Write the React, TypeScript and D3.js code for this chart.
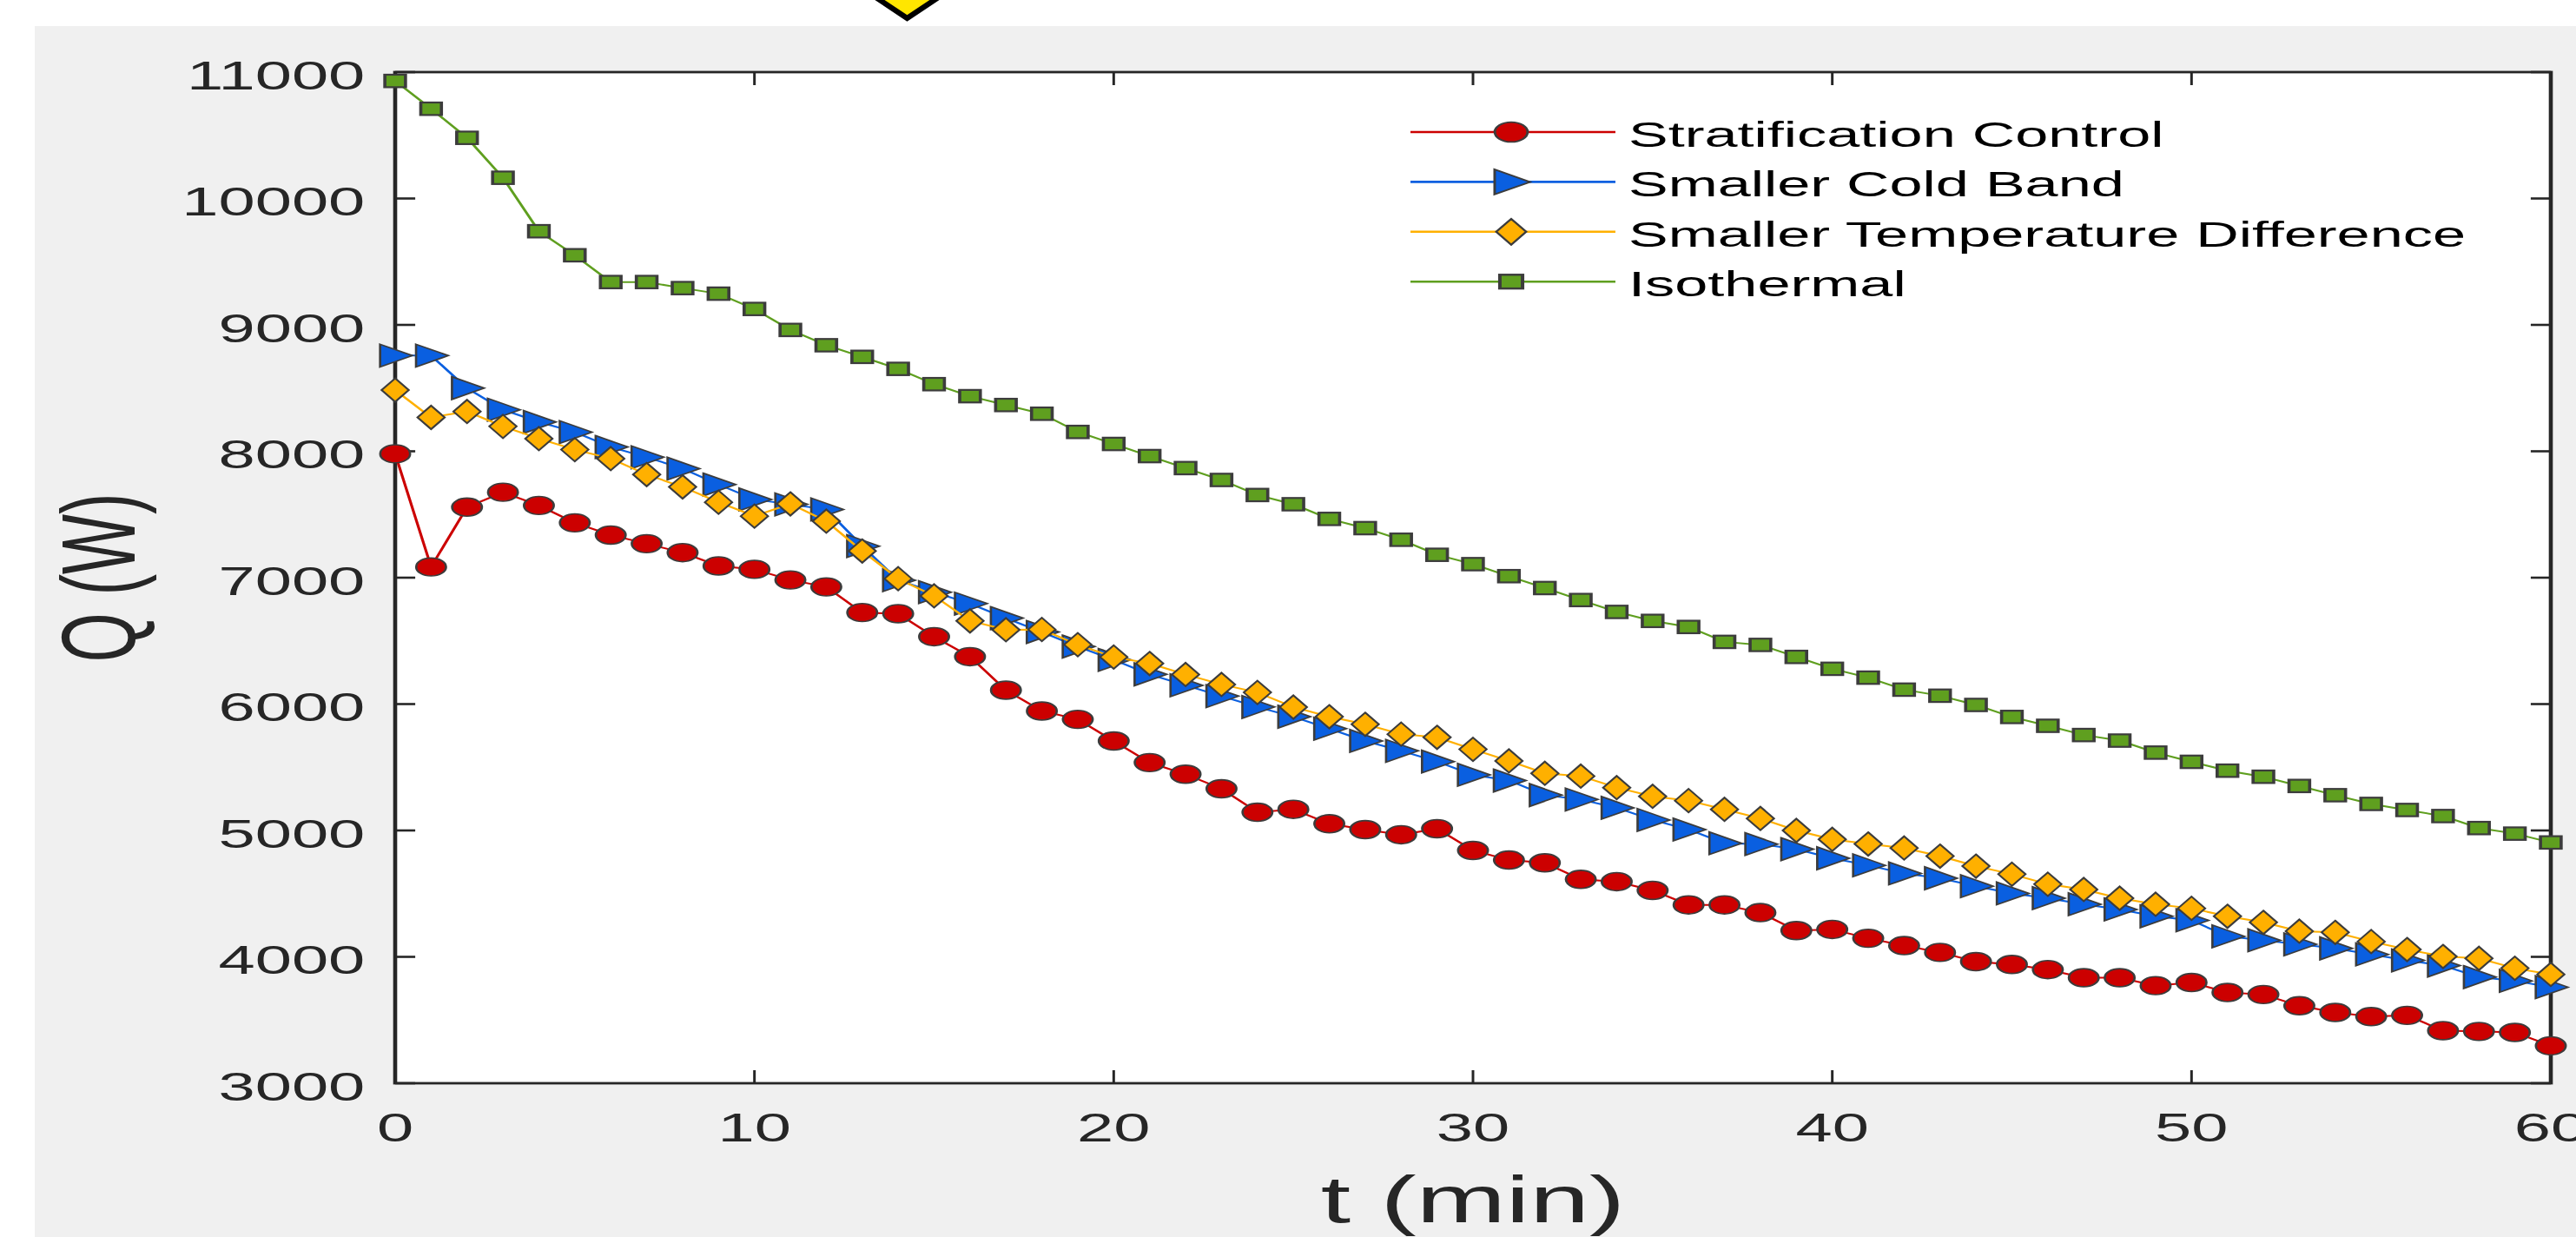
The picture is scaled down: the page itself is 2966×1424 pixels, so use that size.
import React from 'react';
import * as d3 from 'd3';

// ---------- data ----------
const times = [
  0, 1, 2, 3, 4, 5, 6, 7, 8, 9, 10, 11, 12, 13, 14, 15, 16, 17, 18, 19, 20,
  21, 22, 23, 24, 25, 26, 27, 28, 29, 30, 31, 32, 33, 34, 35, 36, 37, 38, 39, 40,
  41, 42, 43, 44, 45, 46, 47, 48, 49, 50, 51, 52, 53, 54, 55, 56, 57, 58, 59, 60,
];

const stratificationControl = [
  7980, 7085, 7558, 7676, 7571, 7434, 7337, 7269, 7198, 7093, 7066,
  6982, 6927, 6724, 6715, 6533, 6375, 6110, 5945, 5879, 5708,
  5537, 5445, 5330, 5144, 5167, 5053, 5007, 4966, 5014, 4842,
  4766, 4744, 4613, 4595, 4526, 4411, 4411, 4350, 4208, 4217,
  4147, 4089, 4035, 3962, 3940, 3899, 3835, 3835, 3772, 3797,
  3718, 3702, 3613, 3560, 3527, 3537, 3416, 3410, 3402, 3296,
];

const smallerColdBand = [
  8757, 8757, 8500, 8329, 8232, 8152, 8034, 7953, 7863, 7737, 7619,
  7580, 7540, 7250, 6980, 6885, 6795, 6680, 6570, 6455, 6350,
  6235, 6148, 6063, 5977, 5900, 5805, 5708, 5630, 5545, 5440,
  5395, 5280, 5245, 5179, 5083, 5007, 4899, 4892, 4852, 4780,
  4724, 4660, 4622, 4559, 4502, 4464, 4416, 4375, 4321, 4289,
  4162, 4131, 4099, 4067, 4019, 3972, 3931, 3840, 3810, 3760,
];

const smallerTempDifference = [
  8484, 8268, 8315, 8197, 8100, 8013, 7942, 7816, 7718, 7597, 7487,
  7584, 7447, 7211, 6992, 6856, 6658, 6588, 6590, 6470, 6372,
  6321, 6234, 6155, 6092, 5976, 5900, 5840, 5762, 5737, 5642,
  5550, 5452, 5430, 5339, 5270, 5236, 5167, 5095, 5000, 4930,
  4893, 4861, 4797, 4718, 4654, 4575, 4533, 4464, 4416, 4384,
  4321, 4273, 4203, 4194, 4121, 4058, 4003, 3988, 3910, 3861,
];

const isothermal = [
  10930, 10710, 10480, 10164, 9741, 9551, 9339, 9339, 9291, 9247, 9126,
  8960, 8839, 8747, 8652, 8531, 8436, 8366, 8297, 8153, 8058,
  7962, 7867, 7773, 7654, 7581, 7465, 7392, 7300, 7181, 7107,
  7012, 6918, 6823, 6729, 6658, 6610, 6492, 6468, 6373, 6279,
  6209, 6114, 6066, 5993, 5898, 5828, 5755, 5711, 5616, 5543,
  5473, 5425, 5352, 5279, 5210, 5162, 5114, 5019, 4975, 4905,
];

const seriesNames = [
  'Stratification Control',
  'Smaller Cold Band',
  'Smaller Temperature Difference',
  'Isothermal',
];
const seriesColors = ['#cc0000', '#0a5fe0', '#ffb000', '#5f9f1f'];
const seriesMarkers = ['circle', 'triangle', 'diamond', 'square'];
const seriesValues = [stratificationControl, smallerColdBand, smallerTempDifference, isothermal];

const xTicks = [0, 10, 20, 30, 40, 50, 60];
const yTicks = [3000, 4000, 5000, 6000, 7000, 8000, 9000, 10000, 11000];

const xTitle = 't (min)';
const yTitle = 'Q (W)';

// ---------- layout ----------
const W = 2966;
const H = 1424;
const SX = 1.65; // horizontal stretch of the whole figure
const FONT = "'Liberation Sans', Arial, Helvetica, sans-serif";
const AX = '#262626';
const EDGE = '#3c3c3c';

const plotLeft = 455 / SX;
const plotRight = 2937 / SX;
const plotTop = 83;
const plotBottom = 1247;

const xScale = d3.scaleLinear().domain([0, 60]).range([plotLeft, plotRight]);
const yScale = d3.scaleLinear().domain([3000, 11000]).range([plotBottom, plotTop]);

function Marker({ type, x, y, color, k = 1 }: { type: string; x: number; y: number; color: string; k?: number }) {
  const t = `translate(${x},${y}) scale(${k})`;
  if (type === 'circle')
    return <circle transform={t} r={10.4} fill={color} stroke={EDGE} strokeWidth={1.6} />;
  if (type === 'triangle')
    return <polygon transform={t} points="-10.5,-13 12,0 -10.5,13" fill={color} stroke={EDGE} strokeWidth={1.6} />;
  if (type === 'diamond')
    return <polygon transform={t} points="0,-13.5 9.5,0 0,13.5 -9.5,0" fill={color} stroke={EDGE} strokeWidth={1.6} />;
  return <rect transform={t} x={-7.2} y={-7.2} width={14.4} height={14.4} fill={color} stroke={EDGE} strokeWidth={2.2} />;
}

export default function App() {
  const line = d3
    .line<number>()
    .x((_, i) => xScale(times[i]))
    .y((d) => yScale(d));

  const tickLenX = 14; // horizontal length of y ticks (unstretched)
  const tickLenY = 15; // vertical length of x ticks

  const legendX0 = 1624 / SX;
  const legendX1 = 1860 / SX;
  const legendMid = 1740 / SX;
  const legendTextX = 1875 / SX;
  const legendY0 = 152;
  const legendDY = 57.4;

  return (
    <svg
      width={W}
      height={H}
      viewBox={`0 0 ${W} ${H}`}
      style={{ position: 'absolute', left: 0, top: 0, display: 'block', background: '#ffffff' }}
    >
      <rect x={0} y={0} width={W} height={H} fill="#ffffff" />
      <g transform={`scale(${SX},1)`}>
        {/* figure background */}
        <rect x={40 / SX} y={30} width={(W - 40) / SX} height={H - 30} fill="#f0f0f0" />
        {/* yellow arrow at top */}
        <polygon points="603,-12 663,-12 633,21" fill="#ffe600" stroke="#000" strokeWidth={5} strokeLinejoin="miter" />

        {/* plot area */}
        <rect x={plotLeft} y={plotTop} width={plotRight - plotLeft} height={plotBottom - plotTop} fill="#ffffff" />

        {/* ticks */}
        {yTicks.map((v) => (
          <g key={'yt' + v}>
            <line x1={plotLeft} x2={plotLeft + tickLenX} y1={yScale(v)} y2={yScale(v)} stroke={AX} strokeWidth={2.6} />
            <line x1={plotRight} x2={plotRight - tickLenX} y1={yScale(v)} y2={yScale(v)} stroke={AX} strokeWidth={2.6} />
          </g>
        ))}
        {xTicks.map((t) => (
          <g key={'xt' + t}>
            <line x1={xScale(t)} x2={xScale(t)} y1={plotBottom} y2={plotBottom - tickLenY} stroke={AX} strokeWidth={1.8} />
            <line x1={xScale(t)} x2={xScale(t)} y1={plotTop} y2={plotTop + tickLenY} stroke={AX} strokeWidth={1.8} />
          </g>
        ))}
        {/* axes box */}
        <rect
          x={plotLeft}
          y={plotTop}
          width={plotRight - plotLeft}
          height={plotBottom - plotTop}
          fill="none"
          stroke={AX}
          strokeWidth={2.8}
        />

        {/* tick labels */}
        {yTicks.map((v) => (
          <text
            key={'yl' + v}
            x={plotLeft - 21}
            y={yScale(v) + 20}
            textAnchor="end"
            fontFamily={FONT}
            fontSize={46}
            fill={AX}
          >
            {v}
          </text>
        ))}
        {xTicks.map((t) => (
          <text
            key={'xl' + t}
            x={xScale(t)}
            y={1314}
            textAnchor="middle"
            fontFamily={FONT}
            fontSize={46}
            fill={AX}
          >
            {t}
          </text>
        ))}

        {/* axis titles */}
        <text
          x={(plotLeft + plotRight) / 2}
          y={1407}
          textAnchor="middle"
          fontFamily={FONT}
          fontSize={75}
          fill={AX}
        >
          {xTitle}
        </text>
        <text
          transform={`translate(94,${(plotTop + plotBottom) / 2}) rotate(-90)`}
          textAnchor="middle"
          fontFamily={FONT}
          fontSize={73}
          fill={AX}
        >
          {yTitle}
        </text>

        {/* data series */}
        {seriesValues.map((vals, si) => (
          <g key={'s' + si}>
            <path d={line(vals) || ''} fill="none" stroke={seriesColors[si]} strokeWidth={2} />
            {vals.map((v, i) => (
              <Marker key={i} type={seriesMarkers[si]} x={xScale(times[i])} y={yScale(v)} color={seriesColors[si]} />
            ))}
          </g>
        ))}

        {/* legend */}
        {seriesNames.map((name, i) => {
          const yy = legendY0 + i * legendDY;
          return (
            <g key={'lg' + i}>
              <line x1={legendX0} x2={legendX1} y1={yy} y2={yy} stroke={seriesColors[i]} strokeWidth={2.6} />
              <Marker type={seriesMarkers[i]} x={legendMid} y={yy} color={seriesColors[i]} k={1.1} />
              <text x={legendTextX} y={yy + 17} fontFamily={FONT} fontSize={41.5} fill="#000">
                {name}
              </text>
            </g>
          );
        })}
      </g>
    </svg>
  );
}
